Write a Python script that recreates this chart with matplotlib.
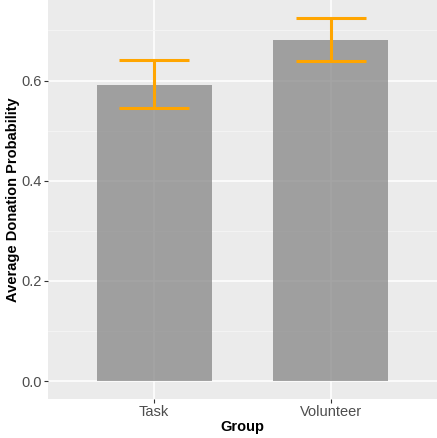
import matplotlib
matplotlib.use("Agg")
import matplotlib.pyplot as plt
from matplotlib.ticker import MultipleLocator
import numpy as np

# Mean donation probability per group with confidence bounds
groups = ["Task", "Volunteer"]
means = [0.592, 0.681]
lower = [0.545, 0.638]
upper = [0.640, 0.7245]
y_ticks = [0.0, 0.2, 0.4, 0.6]
y_tick_labels = ["0.0", "0.2", "0.4", "0.6"]

plt.rcParams["font.family"] = ["Liberation Sans", "DejaVu Sans"]

fig = plt.figure(figsize=(4.37, 4.38), dpi=100)
ax = fig.add_axes([48 / 437, 38.7 / 438, 389 / 437, 399.3 / 438])

x = np.arange(1, len(groups) + 1)
ax.set_facecolor("#EBEBEB")
for s in ax.spines.values():
    s.set_visible(False)

ax.set_axisbelow(True)
ax.yaxis.set_minor_locator(MultipleLocator(0.1))
ax.grid(which="major", color="white", linewidth=1.1)
ax.grid(which="minor", axis="y", color="#F5F5F5", linewidth=0.6)

ax.bar(x, means, width=0.65, color="#7F7F7F", alpha=0.7, zorder=2)

# error bars: vertical stems plus horizontal caps
ax.vlines(x, lower, upper, color="#FFA500", linewidth=2.2, zorder=3)
ax.hlines(lower, x - 0.2, x + 0.2, color="#FFA500", linewidth=2.2, zorder=3)
ax.hlines(upper, x - 0.2, x + 0.2, color="#FFA500", linewidth=2.2, zorder=3)

ax.set_xlim(0.4, len(groups) + 0.6)
span = max(upper)
ax.set_ylim(-0.05 * span, span * 1.05)

ax.set_xticks(x)
ax.set_xticklabels(groups)
ax.set_yticks(y_ticks)
ax.set_yticklabels(y_tick_labels)
ax.tick_params(axis="both", which="major", length=3, width=0.8, color="#333333",
               labelcolor="#4D4D4D", labelsize=10.5, pad=1.5)
ax.tick_params(axis="x", which="major", pad=1)
ax.tick_params(axis="both", which="minor", length=0)

ax.set_xlabel("Group", fontsize=10.5, fontweight="bold", labelpad=1)
ax.set_ylabel("Average Donation Probability", fontsize=10.5, fontweight="bold")
ax.yaxis.set_label_coords(-0.072, 0.5)

fig.savefig("out.png", dpi=100)
